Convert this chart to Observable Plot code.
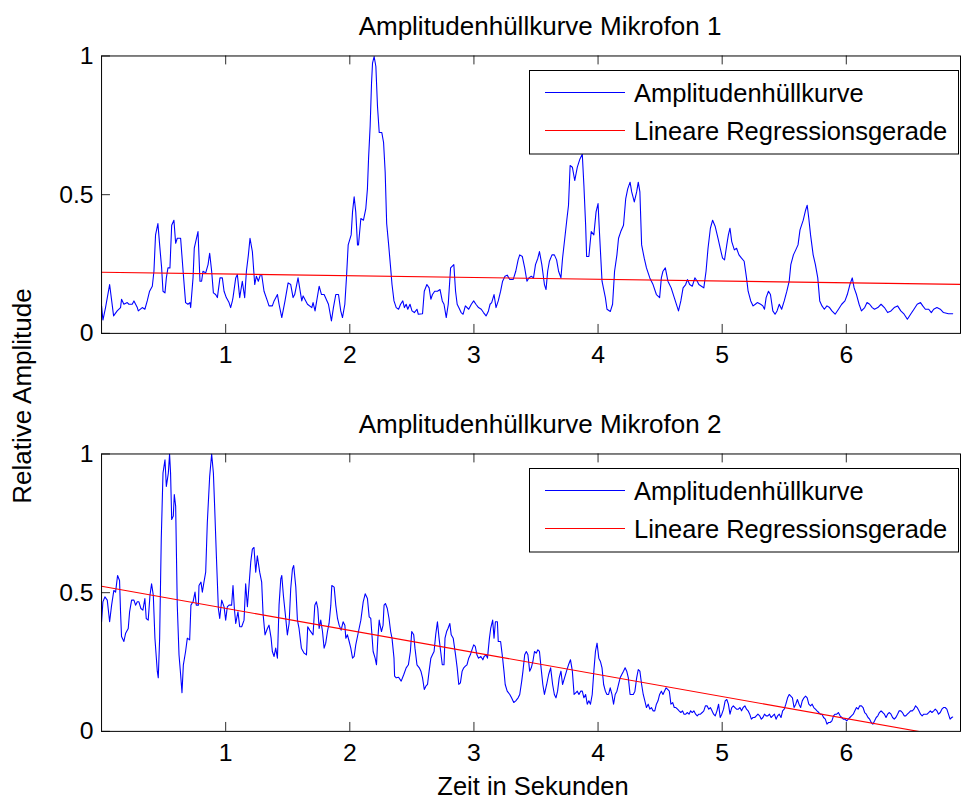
<!DOCTYPE html>
<html>
<head>
<meta charset="utf-8">
<script src="https://cdn.jsdelivr.net/npm/d3@7"></script>
<script src="https://cdn.jsdelivr.net/npm/@observablehq/plot@0.6"></script>
<style>
  html, body { margin: 0; padding: 0; background: #fff; overflow: hidden; }
  #wrap { position: relative; width: 961px; height: 799px; overflow: hidden; background: #fff; }
  #wrap > svg, #wrap > div { position: absolute; left: 0; }
  #p1 { top: 0; }
  #p2 { top: 398px; }
  #overlay { top: 0; pointer-events: none; }
</style>
</head>
<body>
<div id="wrap">
  <div id="p1"></div>
  <div id="p2"></div>
</div>
<script>
// ---------------- data ----------------
const title1 = "Amplitudenhüllkurve Mikrofon 1";
const title2 = "Amplitudenhüllkurve Mikrofon 2";
const yLabel = "Relative Amplitude";
const xLabel = "Zeit in Sekunden";
const legendLabels = ["Amplitudenhüllkurve", "Lineare Regressionsgerade"];
const xTicks = [1, 2, 3, 4, 5, 6];
const yTicks = [0, 0.5, 1];
const xDomain = [0, 6.92];

// regression line end points [time, value]
const reg1 = [[0, 0.2205], [6.92, 0.1765]];
const reg2 = [[0, 0.523], [6.92, -0.027]];

// envelope microphone 1: [time s, relative amplitude]
const mic1 = [
[0.000,0.099],[0.011,0.048],[0.032,0.093],[0.065,0.176],[0.097,0.063],[0.126,0.081],[0.153,0.093],[0.161,0.123],
[0.180,0.105],[0.207,0.111],[0.220,0.105],[0.247,0.105],[0.261,0.117],[0.288,0.093],[0.296,0.081],[0.328,0.093],
[0.349,0.087],[0.368,0.117],[0.387,0.152],[0.409,0.170],[0.422,0.224],[0.435,0.355],[0.454,0.396],[0.468,0.319],
[0.484,0.236],[0.495,0.152],[0.511,0.146],[0.522,0.200],[0.535,0.236],[0.551,0.236],[0.565,0.390],[0.583,0.408],
[0.597,0.325],[0.610,0.343],[0.637,0.343],[0.659,0.212],[0.677,0.111],[0.696,0.105],[0.712,0.111],[0.718,0.093],
[0.737,0.200],[0.747,0.307],[0.777,0.367],[0.793,0.188],[0.806,0.188],[0.817,0.224],[0.839,0.218],[0.858,0.248],
[0.871,0.289],[0.887,0.224],[0.901,0.146],[0.919,0.140],[0.933,0.129],[0.954,0.200],[0.973,0.200],[0.987,0.152],
[1.005,0.129],[1.027,0.111],[1.040,0.093],[1.054,0.117],[1.059,0.129],[1.081,0.200],[1.094,0.212],[1.113,0.129],
[1.134,0.188],[1.153,0.129],[1.167,0.224],[1.183,0.283],[1.196,0.343],[1.215,0.295],[1.234,0.176],[1.247,0.206],
[1.263,0.188],[1.280,0.212],[1.290,0.212],[1.309,0.152],[1.336,0.117],[1.349,0.099],[1.376,0.099],[1.390,0.117],
[1.417,0.140],[1.430,0.105],[1.452,0.057],[1.478,0.117],[1.503,0.182],[1.524,0.176],[1.543,0.129],[1.556,0.140],
[1.583,0.200],[1.613,0.117],[1.624,0.135],[1.659,0.105],[1.694,0.093],[1.704,0.111],[1.720,0.081],[1.753,0.170],
[1.772,0.140],[1.793,0.140],[1.828,0.105],[1.852,0.045],[1.868,0.093],[1.887,0.140],[1.909,0.140],[1.927,0.081],
[1.941,0.057],[1.960,0.105],[1.973,0.200],[1.987,0.319],[2.011,0.355],[2.022,0.438],[2.035,0.492],[2.048,0.438],
[2.062,0.319],[2.070,0.319],[2.089,0.414],[2.110,0.408],[2.129,0.450],[2.142,0.521],[2.151,0.629],[2.164,0.748],
[2.175,0.902],[2.183,0.974],[2.196,0.998],[2.210,0.962],[2.223,0.819],[2.237,0.724],[2.258,0.724],[2.272,0.688],
[2.285,0.581],[2.297,0.396],[2.313,0.319],[2.329,0.236],[2.340,0.176],[2.356,0.117],[2.374,0.093],[2.393,0.087],
[2.409,0.105],[2.427,0.117],[2.440,0.093],[2.454,0.105],[2.467,0.087],[2.485,0.105],[2.501,0.081],[2.520,0.075],
[2.541,0.087],[2.552,0.069],[2.586,0.071],[2.600,0.152],[2.621,0.176],[2.639,0.164],[2.653,0.123],[2.666,0.140],
[2.684,0.152],[2.706,0.152],[2.727,0.158],[2.745,0.117],[2.759,0.105],[2.777,0.057],[2.793,0.105],[2.812,0.236],
[2.838,0.248],[2.852,0.152],[2.865,0.105],[2.878,0.093],[2.897,0.075],[2.913,0.069],[2.931,0.099],[2.958,0.087],
[2.979,0.105],[2.998,0.117],[3.016,0.105],[3.037,0.093],[3.059,0.087],[3.077,0.075],[3.098,0.063],[3.117,0.081],
[3.130,0.105],[3.143,0.111],[3.162,0.140],[3.178,0.093],[3.196,0.117],[3.215,0.152],[3.231,0.188],[3.250,0.206],
[3.268,0.210],[3.289,0.194],[3.316,0.194],[3.337,0.224],[3.356,0.265],[3.369,0.283],[3.390,0.277],[3.409,0.236],
[3.427,0.188],[3.443,0.200],[3.462,0.206],[3.480,0.200],[3.496,0.248],[3.515,0.271],[3.528,0.295],[3.547,0.248],
[3.568,0.176],[3.581,0.158],[3.594,0.224],[3.608,0.260],[3.629,0.283],[3.648,0.283],[3.666,0.265],[3.682,0.224],
[3.701,0.200],[3.714,0.271],[3.732,0.343],[3.748,0.408],[3.762,0.462],[3.775,0.605],[3.793,0.599],[3.812,0.551],
[3.833,0.599],[3.854,0.629],[3.873,0.646],[3.886,0.533],[3.900,0.390],[3.908,0.277],[3.926,0.277],[3.945,0.367],
[3.966,0.355],[3.984,0.438],[4.000,0.468],[4.011,0.367],[4.032,0.188],[4.059,0.129],[4.072,0.087],[4.099,0.079],
[4.117,0.105],[4.133,0.224],[4.152,0.283],[4.165,0.343],[4.183,0.367],[4.205,0.390],[4.223,0.486],[4.239,0.521],
[4.258,0.545],[4.271,0.510],[4.292,0.474],[4.311,0.510],[4.324,0.545],[4.337,0.510],[4.351,0.319],[4.372,0.271],
[4.390,0.236],[4.417,0.200],[4.443,0.176],[4.470,0.140],[4.496,0.129],[4.510,0.200],[4.523,0.224],[4.542,0.236],
[4.563,0.188],[4.589,0.164],[4.614,0.129],[4.648,0.081],[4.667,0.117],[4.685,0.164],[4.706,0.176],[4.720,0.194],
[4.738,0.176],[4.759,0.170],[4.780,0.200],[4.799,0.188],[4.812,0.176],[4.833,0.170],[4.852,0.164],[4.870,0.224],
[4.886,0.307],[4.905,0.379],[4.923,0.408],[4.944,0.385],[4.966,0.343],[4.984,0.307],[5.003,0.271],[5.019,0.265],
[5.037,0.319],[5.050,0.355],[5.063,0.379],[5.077,0.331],[5.098,0.301],[5.116,0.307],[5.135,0.283],[5.156,0.271],
[5.177,0.260],[5.196,0.200],[5.209,0.152],[5.230,0.117],[5.249,0.099],[5.267,0.105],[5.283,0.111],[5.310,0.105],
[5.328,0.099],[5.341,0.087],[5.354,0.129],[5.373,0.152],[5.389,0.140],[5.408,0.081],[5.426,0.069],[5.442,0.081],
[5.460,0.105],[5.479,0.087],[5.500,0.117],[5.521,0.152],[5.540,0.188],[5.553,0.248],[5.574,0.283],[5.593,0.301],
[5.611,0.319],[5.627,0.373],[5.653,0.408],[5.672,0.444],[5.685,0.462],[5.698,0.414],[5.712,0.355],[5.733,0.283],
[5.751,0.248],[5.770,0.200],[5.786,0.117],[5.804,0.099],[5.823,0.087],[5.844,0.099],[5.865,0.093],[5.884,0.081],
[5.910,0.069],[5.937,0.087],[5.963,0.105],[5.989,0.117],[6.008,0.140],[6.029,0.176],[6.048,0.200],[6.063,0.164],
[6.082,0.140],[6.103,0.105],[6.122,0.081],[6.148,0.093],[6.167,0.111],[6.188,0.105],[6.209,0.093],[6.227,0.087],
[6.254,0.093],[6.280,0.105],[6.307,0.093],[6.333,0.075],[6.360,0.081],[6.386,0.093],[6.413,0.099],[6.439,0.081],
[6.466,0.069],[6.492,0.051],[6.518,0.069],[6.545,0.087],[6.571,0.105],[6.598,0.111],[6.616,0.099],[6.637,0.087],
[6.664,0.087],[6.685,0.075],[6.704,0.087],[6.730,0.093],[6.757,0.087],[6.783,0.075],[6.823,0.071],[6.857,0.071]
];

// envelope microphone 2: [time s, relative amplitude]
const mic2 = [
[0.000,0.395],[0.011,0.467],[0.027,0.485],[0.046,0.473],[0.065,0.395],[0.081,0.455],[0.099,0.508],[0.113,0.502],
[0.129,0.562],[0.145,0.544],[0.153,0.431],[0.161,0.342],[0.180,0.324],[0.194,0.354],[0.215,0.371],[0.226,0.431],
[0.242,0.473],[0.261,0.473],[0.274,0.455],[0.288,0.467],[0.301,0.467],[0.317,0.443],[0.333,0.437],[0.349,0.479],
[0.360,0.407],[0.376,0.401],[0.390,0.490],[0.403,0.532],[0.417,0.490],[0.430,0.336],[0.449,0.217],[0.457,0.193],
[0.468,0.336],[0.481,0.693],[0.495,0.931],[0.511,0.979],[0.522,0.883],[0.538,0.931],[0.548,1.000],[0.556,0.931],
[0.565,0.764],[0.578,0.776],[0.586,0.854],[0.597,0.812],[0.610,0.455],[0.624,0.276],[0.637,0.205],[0.648,0.139],
[0.659,0.240],[0.677,0.288],[0.691,0.336],[0.710,0.330],[0.720,0.455],[0.737,0.467],[0.753,0.502],[0.763,0.455],
[0.780,0.455],[0.785,0.526],[0.801,0.538],[0.812,0.502],[0.825,0.538],[0.839,0.574],[0.852,0.752],[0.871,0.919],
[0.887,1.000],[0.901,0.931],[0.911,0.812],[0.925,0.633],[0.941,0.443],[0.952,0.407],[0.968,0.473],[0.987,0.449],
[1.000,0.401],[1.013,0.449],[1.027,0.455],[1.048,0.455],[1.059,0.526],[1.070,0.443],[1.081,0.389],[1.099,0.431],
[1.113,0.377],[1.129,0.377],[1.148,0.401],[1.161,0.532],[1.175,0.449],[1.188,0.526],[1.202,0.610],[1.215,0.657],
[1.228,0.663],[1.242,0.574],[1.255,0.633],[1.274,0.574],[1.290,0.538],[1.301,0.425],[1.317,0.348],[1.336,0.371],
[1.349,0.383],[1.366,0.336],[1.376,0.288],[1.390,0.270],[1.403,0.300],[1.417,0.264],[1.430,0.455],[1.444,0.550],
[1.452,0.562],[1.465,0.490],[1.484,0.407],[1.497,0.348],[1.511,0.389],[1.524,0.514],[1.538,0.586],[1.548,0.598],
[1.565,0.520],[1.578,0.401],[1.591,0.371],[1.610,0.300],[1.632,0.282],[1.651,0.276],[1.661,0.377],[1.677,0.365],
[1.694,0.354],[1.704,0.348],[1.718,0.455],[1.731,0.467],[1.742,0.443],[1.753,0.371],[1.766,0.401],[1.780,0.360],
[1.793,0.300],[1.806,0.318],[1.820,0.360],[1.833,0.389],[1.847,0.455],[1.855,0.526],[1.874,0.520],[1.887,0.455],
[1.901,0.407],[1.914,0.383],[1.930,0.365],[1.946,0.395],[1.960,0.383],[1.968,0.336],[1.981,0.348],[1.995,0.324],
[2.008,0.300],[2.022,0.264],[2.035,0.270],[2.048,0.312],[2.070,0.360],[2.089,0.401],[2.108,0.467],[2.124,0.496],
[2.142,0.479],[2.156,0.413],[2.169,0.407],[2.188,0.288],[2.204,0.264],[2.215,0.240],[2.226,0.336],[2.237,0.401],
[2.241,0.389],[2.255,0.360],[2.268,0.383],[2.276,0.455],[2.287,0.461],[2.302,0.443],[2.316,0.407],[2.329,0.360],
[2.340,0.336],[2.356,0.264],[2.361,0.199],[2.374,0.193],[2.393,0.195],[2.414,0.181],[2.435,0.205],[2.454,0.229],
[2.472,0.240],[2.488,0.288],[2.499,0.360],[2.515,0.348],[2.525,0.300],[2.541,0.240],[2.560,0.229],[2.573,0.217],
[2.586,0.193],[2.600,0.151],[2.613,0.163],[2.626,0.169],[2.639,0.217],[2.653,0.264],[2.666,0.276],[2.679,0.288],
[2.692,0.348],[2.706,0.395],[2.719,0.336],[2.732,0.288],[2.745,0.240],[2.759,0.240],[2.767,0.336],[2.780,0.360],
[2.791,0.371],[2.806,0.389],[2.817,0.348],[2.833,0.336],[2.852,0.276],[2.865,0.229],[2.878,0.169],[2.891,0.175],
[2.905,0.217],[2.918,0.229],[2.931,0.235],[2.944,0.240],[2.958,0.264],[2.971,0.276],[2.984,0.294],[2.998,0.312],
[3.011,0.306],[3.024,0.276],[3.037,0.264],[3.056,0.270],[3.072,0.258],[3.082,0.270],[3.098,0.276],[3.109,0.264],
[3.125,0.336],[3.135,0.371],[3.151,0.401],[3.162,0.336],[3.173,0.395],[3.189,0.395],[3.196,0.324],[3.215,0.324],
[3.231,0.264],[3.242,0.217],[3.252,0.169],[3.268,0.145],[3.289,0.133],[3.303,0.121],[3.321,0.104],[3.337,0.110],
[3.356,0.121],[3.369,0.133],[3.385,0.181],[3.395,0.217],[3.409,0.276],[3.422,0.288],[3.435,0.276],[3.449,0.217],
[3.462,0.229],[3.475,0.252],[3.488,0.288],[3.502,0.282],[3.515,0.294],[3.528,0.288],[3.541,0.229],[3.555,0.169],
[3.568,0.133],[3.586,0.169],[3.602,0.205],[3.618,0.229],[3.634,0.169],[3.648,0.133],[3.661,0.121],[3.674,0.145],
[3.687,0.193],[3.701,0.217],[3.714,0.169],[3.730,0.193],[3.746,0.217],[3.762,0.240],[3.778,0.258],[3.793,0.217],
[3.807,0.133],[3.820,0.139],[3.833,0.145],[3.846,0.133],[3.860,0.145],[3.873,0.145],[3.886,0.121],[3.900,0.133],
[3.913,0.098],[3.926,0.110],[3.939,0.098],[3.953,0.133],[3.966,0.217],[3.979,0.288],[3.992,0.318],[4.006,0.264],
[4.019,0.252],[4.032,0.229],[4.045,0.169],[4.059,0.145],[4.072,0.133],[4.085,0.133],[4.098,0.157],[4.112,0.133],
[4.125,0.098],[4.138,0.133],[4.152,0.145],[4.165,0.169],[4.178,0.193],[4.191,0.205],[4.205,0.217],[4.218,0.229],
[4.231,0.217],[4.244,0.193],[4.258,0.133],[4.271,0.133],[4.284,0.133],[4.297,0.145],[4.311,0.193],[4.324,0.223],
[4.337,0.217],[4.351,0.169],[4.364,0.133],[4.377,0.110],[4.390,0.086],[4.404,0.098],[4.417,0.080],[4.430,0.086],
[4.443,0.074],[4.457,0.074],[4.470,0.098],[4.483,0.110],[4.496,0.133],[4.510,0.145],[4.523,0.133],[4.548,0.157],
[4.561,0.151],[4.574,0.145],[4.587,0.098],[4.601,0.104],[4.614,0.086],[4.627,0.086],[4.640,0.080],[4.653,0.074],
[4.667,0.068],[4.680,0.074],[4.693,0.062],[4.706,0.062],[4.720,0.068],[4.733,0.062],[4.746,0.074],[4.759,0.068],
[4.772,0.074],[4.786,0.062],[4.799,0.056],[4.812,0.062],[4.825,0.062],[4.839,0.068],[4.852,0.074],[4.865,0.092],
[4.878,0.092],[4.892,0.080],[4.905,0.086],[4.918,0.074],[4.931,0.062],[4.944,0.056],[4.958,0.074],[4.971,0.098],
[4.984,0.050],[4.997,0.062],[5.011,0.080],[5.024,0.110],[5.037,0.115],[5.050,0.098],[5.063,0.062],[5.077,0.086],
[5.090,0.092],[5.103,0.086],[5.116,0.080],[5.130,0.080],[5.143,0.086],[5.156,0.074],[5.169,0.086],[5.183,0.092],
[5.196,0.080],[5.209,0.074],[5.222,0.062],[5.235,0.044],[5.249,0.050],[5.262,0.050],[5.275,0.056],[5.288,0.062],
[5.302,0.056],[5.315,0.044],[5.328,0.050],[5.341,0.062],[5.354,0.056],[5.368,0.056],[5.381,0.062],[5.394,0.050],
[5.407,0.056],[5.421,0.062],[5.434,0.044],[5.447,0.056],[5.460,0.062],[5.474,0.050],[5.487,0.074],[5.500,0.080],
[5.513,0.098],[5.527,0.121],[5.540,0.133],[5.553,0.127],[5.566,0.121],[5.579,0.086],[5.593,0.098],[5.606,0.115],
[5.619,0.098],[5.632,0.086],[5.645,0.110],[5.659,0.121],[5.672,0.127],[5.685,0.121],[5.698,0.098],[5.712,0.092],
[5.725,0.098],[5.738,0.086],[5.751,0.080],[5.764,0.074],[5.778,0.068],[5.791,0.062],[5.804,0.062],[5.817,0.050],
[5.831,0.044],[5.844,0.026],[5.857,0.032],[5.870,0.032],[5.884,0.038],[5.897,0.056],[5.910,0.062],[5.923,0.062],
[5.936,0.068],[5.950,0.056],[5.963,0.050],[5.976,0.044],[5.989,0.044],[6.003,0.038],[6.016,0.044],[6.029,0.050],
[6.042,0.056],[6.056,0.062],[6.069,0.074],[6.082,0.086],[6.095,0.080],[6.108,0.092],[6.122,0.092],[6.135,0.086],
[6.148,0.068],[6.161,0.062],[6.175,0.050],[6.188,0.044],[6.201,0.032],[6.214,0.026],[6.228,0.038],[6.241,0.050],
[6.254,0.056],[6.267,0.068],[6.280,0.074],[6.294,0.068],[6.307,0.062],[6.320,0.050],[6.333,0.062],[6.347,0.068],
[6.360,0.062],[6.373,0.050],[6.386,0.044],[6.399,0.050],[6.413,0.062],[6.426,0.074],[6.439,0.074],[6.452,0.068],
[6.466,0.056],[6.479,0.056],[6.492,0.062],[6.505,0.068],[6.518,0.074],[6.532,0.074],[6.545,0.080],[6.558,0.092],
[6.571,0.086],[6.585,0.074],[6.598,0.062],[6.611,0.056],[6.624,0.062],[6.637,0.062],[6.651,0.062],[6.664,0.068],
[6.677,0.074],[6.690,0.068],[6.704,0.074],[6.717,0.080],[6.730,0.074],[6.743,0.062],[6.757,0.068],[6.770,0.080],
[6.783,0.086],[6.796,0.086],[6.810,0.080],[6.823,0.062],[6.836,0.044],[6.849,0.050],[6.857,0.052]
];

// ---------------- drawing ----------------
const FONT = "'Liberation Sans', Arial, Helvetica, sans-serif";
const W = 970, H = 370, ML = 102, MR = 1, MT = 56, MB = 34;
const plotH = H - MT - MB;   // 280
const plotW = W - ML - MR;
const TICK = 9;

function panel(series, reg) {
  return Plot.plot({
    width: W, height: H,
    marginLeft: ML, marginRight: MR, marginTop: MT, marginBottom: MB,
    x: {domain: xDomain},
    y: {domain: [0, 1]},
    style: {fontFamily: FONT, fontSize: "25px", color: "#000", background: "transparent", overflow: "visible"},
    marks: [
      Plot.line(series, {x: d => d[0], y: d => d[1], stroke: "#0000ff", strokeWidth: 1.1, clip: true}),
      Plot.line(reg, {x: d => d[0], y: d => d[1], stroke: "#ff0000", strokeWidth: 1.1, clip: true}),
      Plot.tickX(xTicks, {x: d => d, insetTop: plotH - TICK, stroke: "#2a2a2a"}),
      Plot.tickX(xTicks, {x: d => d, insetBottom: plotH - TICK, stroke: "#2a2a2a"}),
      Plot.tickY(yTicks, {y: d => d, insetRight: plotW - TICK, stroke: "#2a2a2a"}),
      Plot.axisX(xTicks, {tickSize: 0, tickPadding: 12, label: null, fill: "#000", tickFormat: d => String(d)}),
      Plot.axisY(yTicks, {tickSize: 0, tickPadding: 8, label: null, fill: "#000", tickFormat: d => String(d)}),
      Plot.frame({stroke: "#000", strokeWidth: 1})
    ]
  });
}

document.getElementById("p1").appendChild(panel(mic1, reg1));
document.getElementById("p2").appendChild(panel(mic2, reg2));

// ---------------- titles, labels, legends ----------------
const NS = "http://www.w3.org/2000/svg";
const ov = document.createElementNS(NS, "svg");
ov.setAttribute("id", "overlay");
ov.setAttribute("width", 961);
ov.setAttribute("height", 799);
ov.style.fontFamily = FONT;
document.getElementById("wrap").appendChild(ov);

function el(tag, attrs, text) {
  const e = document.createElementNS(NS, tag);
  for (const k in attrs) e.setAttribute(k, attrs[k]);
  if (text != null) e.textContent = text;
  ov.appendChild(e);
  return e;
}

const titles = [title1, title2];
titles.forEach((t, i) => {
  const off = i * 398;
  el("text", {x: 540, y: 35 + off, "text-anchor": "middle", "font-size": 26, fill: "#000"}, t);
  // legend
  el("rect", {x: 529.5, y: 70.5 + off, width: 429, height: 83.5, fill: "#fff", stroke: "#000", "stroke-width": 1});
  const colors = ["#0000ff", "#ff0000"];
  const rowsY = [92.5, 130.5];
  const textY = [101.5, 140];
  legendLabels.forEach((lab, j) => {
    el("line", {x1: 545, x2: 625, y1: rowsY[j] + off, y2: rowsY[j] + off, stroke: colors[j], "stroke-width": 1.1});
    el("text", {x: 634, y: textY[j] + off, "font-size": 25.5, fill: "#000"}, lab);
  });
});
el("text", {x: 533, y: 795, "text-anchor": "middle", "font-size": 25.5, fill: "#000"}, xLabel);
el("text", {transform: "translate(31,396) rotate(-90)", "text-anchor": "middle", "font-size": 26, fill: "#000"}, yLabel);
</script>
</body>
</html>
